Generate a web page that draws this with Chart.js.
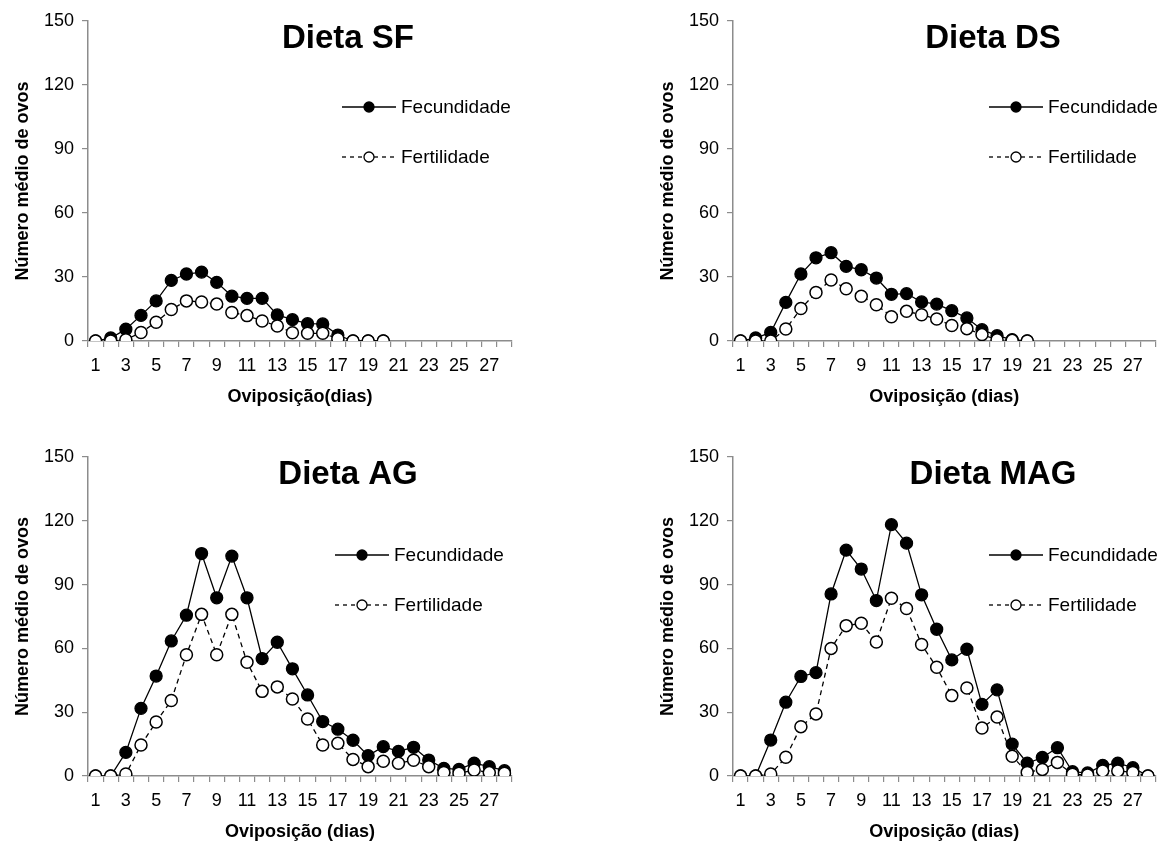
<!DOCTYPE html>
<html>
<head>
<meta charset="utf-8">
<script src="https://cdn.jsdelivr.net/npm/chart.js@4"></script>
<style>
  html, body { margin: 0; padding: 0; background: #fff; overflow: hidden; }
  .painel { position: absolute; }
</style>
</head>
<body>
<div class="painel" style="left:0px; top:0px;"><canvas id="graficoSF" width="560" height="411"></canvas></div>
<div class="painel" style="left:645px; top:0px;"><canvas id="graficoDS" width="518" height="411"></canvas></div>
<div class="painel" style="left:0px; top:436px;"><canvas id="graficoAG" width="560" height="410"></canvas></div>
<div class="painel" style="left:645px; top:436px;"><canvas id="graficoMAG" width="518" height="410"></canvas></div>
<script>
const dias = ['1','2','3','4','5','6','7','8','9','10','11','12','13','14','15','16','17','18','19','20','21','22','23','24','25','26','27','28'];
const yTicks = [0, 30, 60, 90, 120, 150];

// Dieta SF
const sfFecundidade = [0, 1.4, 5.5, 12, 18.8, 28.4, 31.4, 32.3, 27.5, 21, 20, 20, 12.2, 10, 8.1, 8, 2.8, 0, 0, 0];
const sfFertilidade = [0, 0, 0.6, 4, 8.8, 14.8, 18.8, 18.3, 17.3, 13.4, 11.9, 9.4, 7, 3.9, 3.6, 3.6, 1.1, 0, 0, 0];

// Dieta DS
const dsFecundidade = [0, 1.4, 4, 18.1, 31.4, 39, 41.4, 35, 33.4, 29.5, 21.9, 22.2, 18.3, 17.3, 14.2, 10.8, 5.3, 2.5, 0.6, 0];
const dsFertilidade = [0, 0, 0, 5.6, 15.2, 22.7, 28.6, 24.5, 21, 17, 11.4, 13.9, 12.3, 10.3, 7.3, 5.8, 3, 0.6, 0.3, 0];

// Dieta AG
const agFecundidade = [0, 0, 11.1, 31.8, 47, 63.5, 75.6, 104.6, 83.8, 103.4, 83.8, 55.2, 62.9, 50.4, 38.1, 25.6, 22, 16.8, 9.6, 13.8, 11.6, 13.5, 7.5, 3.6, 3.1, 6, 4.4, 2.5];
const agFertilidade = [0, 0, 0.9, 14.6, 25.4, 35.5, 57, 76, 57, 76, 53.5, 39.8, 41.9, 36.2, 26.8, 14.6, 15.4, 7.8, 4.4, 6.9, 6, 7.4, 4.4, 1.7, 1.3, 2.8, 1.6, 1.3];

// Dieta MAG
const magFecundidade = [0, 0, 16.9, 34.7, 46.8, 48.6, 85.6, 106.2, 97.3, 82.5, 118.2, 109.5, 85.2, 69, 54.6, 59.6, 33.7, 40.5, 15, 6, 8.7, 13.3, 2, 1.4, 5, 6, 3.9, 0];
const magFertilidade = [0, 0, 0.9, 8.8, 23.2, 29.2, 60, 70.7, 71.8, 63, 83.6, 78.8, 61.8, 51.1, 37.8, 41.4, 22.6, 27.7, 9.3, 1.7, 3.1, 6.4, 0.8, 0.5, 2.4, 2.4, 1.7, 0];

const fonte = '"Liberation Sans", Arial, sans-serif';
const cinza = '#8c8c8c';

// titulo e legenda desenhados dentro da area do grafico (estilo Excel)
const rotulos = {
    id: 'rotulos',
    afterDraw: (chart, args, opts) => {
        const { ctx, chartArea: { left, top } } = chart;
        ctx.save();
        ctx.fillStyle = '#000';
        ctx.font = `bold 33px ${fonte}`;
        ctx.textAlign = 'center';
        ctx.textBaseline = 'middle';
        ctx.fillText(opts.titulo, left + 260, top + 18);

        const itens = [
            { texto: 'Fecundidade', dash: [], fundo: '#000' },
            { texto: 'Fertilidade', dash: [4, 4], fundo: '#fff' }
        ];
        itens.forEach((item, i) => {
            const y = top + opts.legendaY + i * 50;
            const x0 = left + opts.legendaX;
            ctx.strokeStyle = '#000';
            ctx.lineWidth = 1.3;
            ctx.setLineDash(item.dash);
            ctx.beginPath();
            ctx.moveTo(x0, y);
            ctx.lineTo(x0 + 54, y);
            ctx.stroke();
            ctx.setLineDash([]);
            ctx.beginPath();
            ctx.arc(x0 + 27, y, 5, 0, Math.PI * 2);
            ctx.fillStyle = item.fundo;
            ctx.fill();
            ctx.stroke();
            ctx.fillStyle = '#000';
            ctx.font = `19px ${fonte}`;
            ctx.textAlign = 'left';
            ctx.fillText(item.texto, x0 + 59, y + 1);
        });
        ctx.restore();
    }
};

const criarGrafico = (id, titulo, tituloX, fecundidade, fertilidade, padRight, legendaX, legendaY) => {
    const ctx = document.getElementById(id).getContext('2d');
    new Chart(ctx, {
        type: 'line',
        data: {
            labels: dias,
            datasets: [{
                label: 'Fecundidade',
                data: fecundidade,
                borderColor: '#000',
                borderWidth: 1.3,
                pointRadius: 6,
                pointBackgroundColor: '#000',
                pointBorderColor: '#000',
                pointBorderWidth: 1.3,
                tension: 0,
                order: 2
            }, {
                label: 'Fertilidade',
                data: fertilidade,
                borderColor: '#000',
                borderWidth: 1.3,
                borderDash: [5, 4],
                pointRadius: 6,
                pointBackgroundColor: '#fff',
                pointBorderColor: '#000',
                pointBorderWidth: 1.5,
                tension: 0,
                order: 1
            }]
        },
        options: {
            responsive: false,
            animation: false,
            layout: { padding: { top: 21, right: padRight, left: 0, bottom: 0 } },
            plugins: {
                legend: { display: false },
                tooltip: { enabled: false },
                rotulos: { titulo: titulo, legendaX: legendaX, legendaY: legendaY }
            },
            scales: {
                x: {
                    offset: true,
                    afterFit: (scale) => { scale.height = 70; },
                    border: { color: cinza, width: 1.5 },
                    grid: { offset: true, drawOnChartArea: false, drawTicks: true, tickLength: 6, color: cinza, lineWidth: 1.2 },
                    ticks: {
                        autoSkip: false,
                        maxRotation: 0,
                        padding: 8,
                        color: '#000',
                        font: { family: fonte, size: 18 },
                        callback: (value, index) => index % 2 === 0 ? dias[index] : ''
                    },
                    title: {
                        display: true,
                        text: tituloX,
                        color: '#000',
                        font: { family: fonte, size: 18, weight: 'bold' },
                        padding: { top: 0, bottom: 3 }
                    }
                },
                y: {
                    min: 0,
                    max: 150,
                    afterFit: (scale) => { scale.width = 88; },
                    afterBuildTicks: (scale) => { scale.ticks = yTicks.map(v => ({ value: v })); },
                    border: { color: cinza, width: 1.5 },
                    grid: { drawOnChartArea: false, drawTicks: true, tickLength: 6, color: cinza, lineWidth: 1.2 },
                    ticks: {
                        padding: 8,
                        color: '#000',
                        font: { family: fonte, size: 18 }
                    },
                    title: {
                        display: true,
                        text: 'Número médio de ovos',
                        color: '#000',
                        font: { family: fonte, size: 18, weight: 'bold' },
                        padding: { top: 12, bottom: 0 }
                    }
                }
            }
        },
        plugins: [rotulos]
    });
};

criarGrafico('graficoSF', 'Dieta SF', 'Oviposição(dias)', sfFecundidade, sfFertilidade, 48, 254, 86);
criarGrafico('graficoDS', 'Dieta DS', 'Oviposição (dias)', dsFecundidade, dsFertilidade, 6, 256, 86);
criarGrafico('graficoAG', 'Dieta AG', 'Oviposição (dias)', agFecundidade, agFertilidade, 48, 247, 98);
criarGrafico('graficoMAG', 'Dieta MAG', 'Oviposição (dias)', magFecundidade, magFertilidade, 6, 256, 98);
</script>
</body>
</html>
